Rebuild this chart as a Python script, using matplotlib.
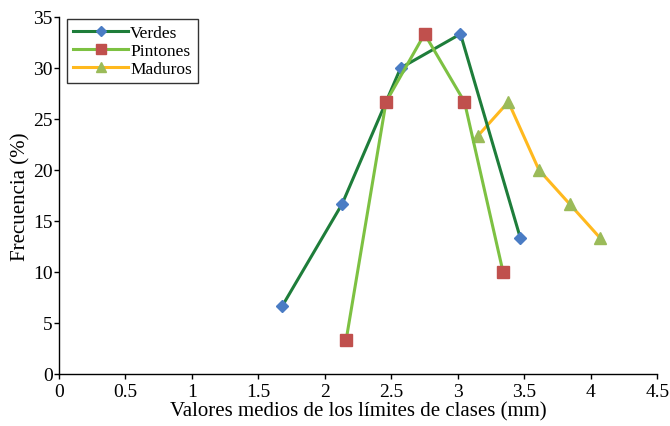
import matplotlib.pyplot as plt
import numpy as np

plt.rcParams['font.family'] = ['Liberation Serif', 'DejaVu Serif']

# Data
verdes_x = [1.68, 2.13, 2.57, 3.02, 3.47]
verdes_y = [6.67, 16.67, 30.0, 33.33, 13.33]

pintones_x = [2.16, 2.46, 2.75, 3.05, 3.34]
pintones_y = [3.33, 26.67, 33.33, 26.67, 10.0]

maduros_x = [2.75, np.nan, 3.15, 3.38, 3.61, 3.84, 4.07]
maduros_y = [33.33, np.nan, 23.33, 26.67, 20.0, 16.67, 13.33]

xticks = [0, 0.5, 1, 1.5, 2, 2.5, 3, 3.5, 4, 4.5]
xticklabels = ['0', '0.5', '1', '1.5', '2', '2.5', '3', '3.5', '4', '4.5']
yticks = [0, 5, 10, 15, 20, 25, 30, 35]

fig = plt.figure(figsize=(6.7, 4.27), dpi=100)
ax = fig.add_axes([0.088, 0.122, 0.893, 0.836])

ax.plot(verdes_x, verdes_y, color='#1E7D3A', lw=2.2, marker='D', ms=6,
        mfc='#4A7CC4', mec='#4A7CC4', label='Verdes', zorder=3)
ax.plot(pintones_x, pintones_y, color='#7DC142', lw=2.2, marker='s', ms=8,
        mfc='#C0504D', mec='#C0504D', label='Pintones', zorder=4)
ax.plot(maduros_x, maduros_y, color='#FFB91E', lw=2.2, marker='^', ms=8,
        mfc='#9BBB59', mec='#9BBB59', label='Maduros', zorder=2)

ax.set_xlim(0, 4.5)
ax.set_ylim(0, 35)
ax.set_xticks(xticks)
ax.set_xticklabels(xticklabels)
ax.set_yticks(yticks)
ax.tick_params(direction='out', length=3.5, width=1, labelsize=14, pad=1,
               colors='black')
ax.tick_params(axis='x', pad=3)
for s in ['top', 'right']:
    ax.spines[s].set_visible(False)
for s in ['left', 'bottom']:
    ax.spines[s].set_linewidth(1)
    ax.spines[s].set_color('black')

ax.set_xlabel('Valores medios de los límites de clases (mm)', fontsize=15, labelpad=1)
ax.set_ylabel('Frecuencia (%)', fontsize=15, labelpad=2)

leg = ax.legend(loc='upper left', bbox_to_anchor=(0.01, 1.0), fontsize=12.5,
                frameon=True, fancybox=False, edgecolor='black',
                handlelength=3.2, handletextpad=0.1, labelspacing=0.1,
                borderpad=0.35, borderaxespad=0.1, markerscale=0.9)
leg.get_frame().set_linewidth(1)

fig.savefig('out.png', dpi=100)
